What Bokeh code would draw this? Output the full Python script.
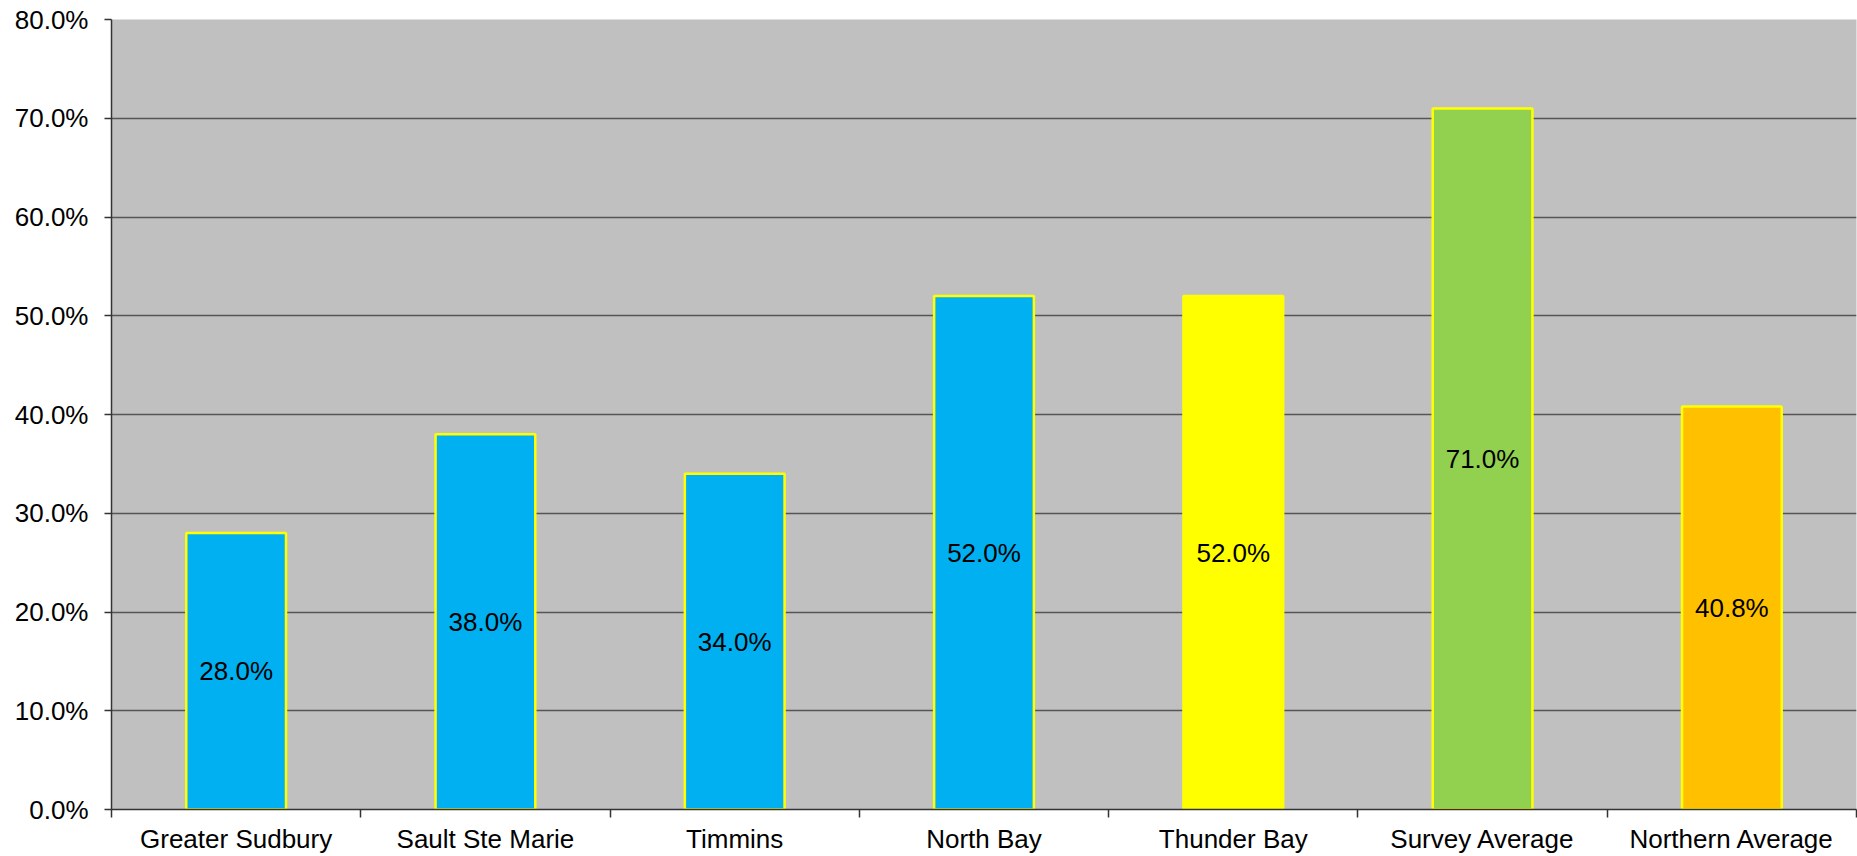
import numpy as np
from bokeh.plotting import figure
from bokeh.models import ColumnDataSource, FixedTicker, NumeralTickFormatter, Range1d, LabelSet
from bokeh.core.properties import value
from bokeh.embed import file_html
from bokeh.resources import INLINE

categories = ["Greater Sudbury", "Sault Ste Marie", "Timmins", "North Bay",
              "Thunder Bay", "Survey Average", "Northern Average"]
values = [0.28, 0.38, 0.34, 0.52, 0.52, 0.71, 0.408]
colors = ["#00B0F0", "#00B0F0", "#00B0F0", "#00B0F0", "#FFFF00", "#92D050", "#FFC000"]
y_ticks = [0.0, 0.1, 0.2, 0.3, 0.4, 0.5, 0.6, 0.7, 0.8]

n = len(categories)
centers = [i + 0.5 for i in range(n)]
bounds = list(range(n + 1))

src = ColumnDataSource(dict(
    x=centers, top=values, mid=[v / 2 for v in values], color=colors,
    label=["{:.1f}%".format(v * 100) for v in values],
))

p = figure(width=1857, height=856, output_backend="svg", toolbar_location=None,
           x_range=Range1d(0, n), y_range=Range1d(0, 0.8),
           min_border_left=111, min_border_right=1, min_border_top=19, min_border_bottom=46)
p.background_fill_color = "#C0C0C0"
p.border_fill_color = "white"
p.outline_line_color = None

p.vbar(x="x", top="top", bottom=0, width=0.4, source=src, fill_color="color",
       line_color="#FFFF00", line_width=2.5)

labels = LabelSet(x="x", y="mid", text="label", source=src, text_align="center",
                  text_baseline="middle", text_font=value("Liberation Sans"),
                  text_font_size=value("26px"), text_color="black")
p.add_layout(labels)

# y axis
p.yaxis.ticker = FixedTicker(ticks=y_ticks)
p.yaxis.formatter = NumeralTickFormatter(format="0.0%")
p.yaxis.major_label_text_font = "Liberation Sans"
p.yaxis.major_label_text_font_size = "26px"
p.yaxis.major_label_text_color = "black"
p.yaxis.major_label_standoff = 16
p.yaxis.major_tick_out = 7
p.yaxis.major_tick_in = 0
p.yaxis.minor_tick_line_color = None
p.yaxis.axis_line_color = "#333333"
p.yaxis.axis_line_width = 1.5
p.yaxis.major_tick_line_color = "#333333"
p.yaxis.major_tick_line_width = 1.5

# x axis: labels at centers, ticks at boundaries
p.xaxis.ticker = FixedTicker(ticks=centers, minor_ticks=bounds)
p.xaxis.major_label_overrides = {c: cat for c, cat in zip(centers, categories)}
p.xaxis.major_label_text_font = "Liberation Sans"
p.xaxis.major_label_text_font_size = "26px"
p.xaxis.major_label_text_color = "black"
p.xaxis.major_label_standoff = 6
p.xaxis.major_tick_out = 0
p.xaxis.major_tick_in = 0
p.xaxis.major_tick_line_color = None
p.xaxis.minor_tick_out = 8
p.xaxis.minor_tick_in = 0
p.xaxis.minor_tick_line_color = "#333333"
p.xaxis.minor_tick_line_width = 1.5
p.xaxis.axis_line_color = "#333333"
p.xaxis.axis_line_width = 1.5

p.xgrid.grid_line_color = None
p.ygrid.ticker = FixedTicker(ticks=y_ticks)
p.ygrid.grid_line_color = "#555555"
p.ygrid.grid_line_width = 1.5

open("out.html", "w").write(file_html(p, INLINE))
